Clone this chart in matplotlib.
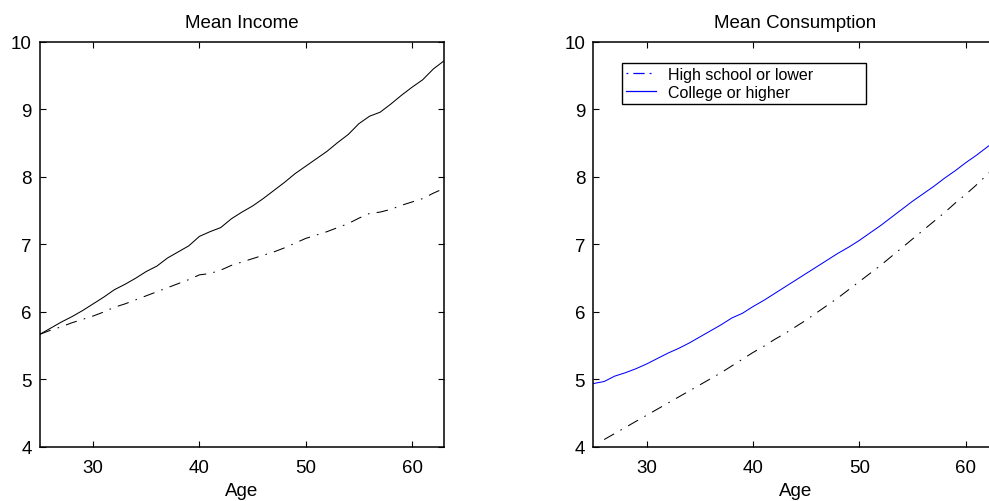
import matplotlib.pyplot as plt
import numpy as np

plt.rcParams["font.family"] = ["Liberation Sans", "DejaVu Sans"]

ages = np.arange(25, 64)

# mean income by age
income_college = [
    5.67, 5.76, 5.85, 5.93, 6.02, 6.12, 6.22, 6.33, 6.41, 6.50,
    6.60, 6.68, 6.80, 6.89, 6.98, 7.12, 7.19, 7.25, 7.38, 7.48,
    7.57, 7.68, 7.80, 7.92, 8.05, 8.16, 8.27, 8.38, 8.51, 8.63,
    8.79, 8.90, 8.96, 9.08, 9.21, 9.33, 9.44, 9.60, 9.72,
]
income_highschool = [
    5.67, 5.73, 5.78, 5.84, 5.89, 5.94, 6.00, 6.07, 6.12, 6.18,
    6.24, 6.30, 6.36, 6.42, 6.48, 6.55, 6.57, 6.62, 6.69, 6.74,
    6.79, 6.84, 6.89, 6.95, 7.02, 7.09, 7.14, 7.19, 7.25, 7.31,
    7.39, 7.46, 7.48, 7.52, 7.58, 7.63, 7.68, 7.76, 7.83,
]

# mean consumption by age
cons_college = [
    4.94, 4.97, 5.05, 5.10, 5.16, 5.23, 5.31, 5.39, 5.46, 5.54,
    5.63, 5.72, 5.81, 5.91, 5.98, 6.08, 6.17, 6.27, 6.37, 6.47,
    6.57, 6.67, 6.77, 6.87, 6.96, 7.06, 7.17, 7.28, 7.40, 7.52,
    7.64, 7.75, 7.86, 7.98, 8.09, 8.21, 8.32, 8.44, 8.56,
]
ages_hs_cons = np.arange(26, 64)
cons_highschool = [
    4.11, 4.20, 4.29, 4.38, 4.47, 4.56, 4.65, 4.74, 4.83,
    4.92, 5.01, 5.10, 5.20, 5.30, 5.40, 5.49, 5.59, 5.68, 5.78,
    5.88, 5.99, 6.10, 6.21, 6.33, 6.45, 6.57, 6.69, 6.82, 6.95,
    7.08, 7.21, 7.34, 7.47, 7.61, 7.74, 7.88, 8.03, 8.18,
]

xticks = [30, 40, 50, 60]
yticks = [4, 5, 6, 7, 8, 9, 10]

dashdot = (11, 7, 1.5, 7)

fig = plt.figure(figsize=(9.89, 5.02), dpi=100)
ax1 = fig.add_axes([0.0404, 0.1076, 0.4085, 0.8068])
ax2 = fig.add_axes([0.6001, 0.1076, 0.4085, 0.8068])


def style(ax, title):
    ax.set_xlim(25, 63)
    ax.set_ylim(4, 10)
    ax.set_xticks(xticks)
    ax.set_yticks(yticks)
    ax.tick_params(direction="in", top=True, right=True, length=4,
                   width=0.8, labelsize=13.5, pad=6)
    ax.tick_params(axis="x", pad=9)
    for s in ax.spines.values():
        s.set_linewidth(1.1)
    ax.set_title(title, fontsize=13.5, pad=11)
    ax.set_xlabel("Age", fontsize=13.5, labelpad=4)


ax1.plot(ages, income_highschool, color="black", lw=0.75, dashes=dashdot)
ax1.plot(ages, income_college, color="black", lw=0.75)
style(ax1, "Mean Income")

ax2.plot(ages_hs_cons, cons_highschool, color="black", lw=0.75, dashes=dashdot)
ax2.plot(ages, cons_college, color="blue", lw=0.75)
style(ax2, "Mean Consumption")

# legend entries are both drawn in blue
h1, = ax2.plot([], [], color="blue", lw=0.9, dashes=(1.5, 4, 9, 4))
h2, = ax2.plot([], [], color="blue", lw=0.9)
leg = ax2.legend([h1, h2], ["High school or lower", "College or higher"],
                 loc="upper left", bbox_to_anchor=(0.0705, 0.8395, 0.604, 0.109),
                 mode="expand", borderaxespad=0, fontsize=11.5, fancybox=False,
                 handlelength=1.9, handletextpad=0.7, labelspacing=0.2,
                 borderpad=0.25, framealpha=1)
leg.get_frame().set_edgecolor("black")
leg.get_frame().set_linewidth(1.0)

fig.savefig("out.png", dpi=100)
